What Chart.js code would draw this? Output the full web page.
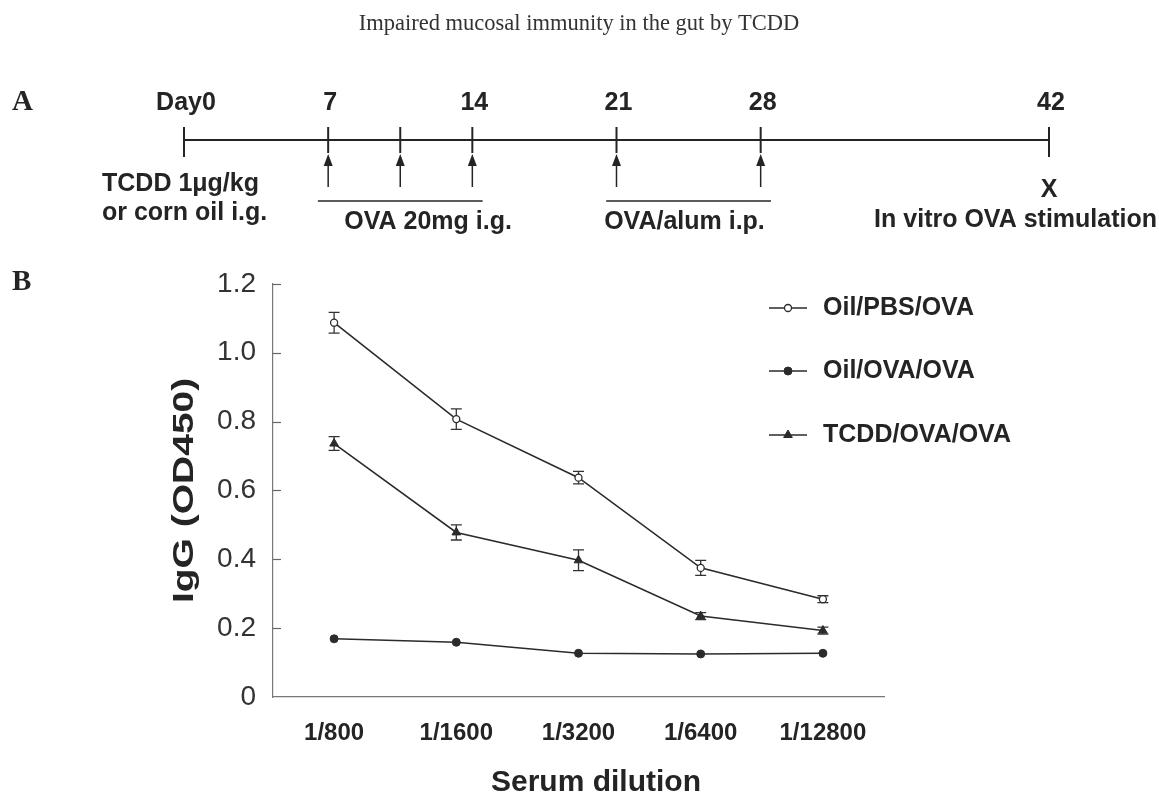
<!DOCTYPE html>
<html>
<head>
<meta charset="utf-8">
<script src="https://cdn.jsdelivr.net/npm/chart.js@4.4.1/dist/chart.umd.min.js"></script>
<style>
  html, body { margin: 0; padding: 0; background: #fff; width: 1159px; height: 799px; overflow: hidden; }
  #wrap { position: relative; width: 1159px; height: 799px; }
  canvas { position: absolute; left: 0; }
  #schedule { top: 0; }
  #igg { top: 250px; }
</style>
</head>
<body>
<div id="wrap">
  <canvas id="schedule" width="1159" height="250"></canvas>
  <canvas id="igg" width="1159" height="549"></canvas>
</div>
<script>
// ---- Panel A: treatment / immunisation schedule (days) ----
const scheduleDays = [0, 7, 10.5, 14, 21, 28, 42];
const scheduleDayLabels = ['Day0', '7', '', '14', '21', '28', '42'];
const gavageDays = [7, 10.5, 14];
const injectionDays = [21, 28];
const harvestDay = 42;
const phaseLabels = ['OVA 20mg i.g.', 'OVA/alum i.p.'];
const phaseLabelDays = [11.85, 24.3];

// ---- Panel B: serum OVA-specific IgG ----
const dilutions = ['1/800', '1/1600', '1/3200', '1/6400', '1/12800'];
const oilPbsOva = [1.087, 0.807, 0.637, 0.375, 0.284];
const oilPbsOvaErr = [0.030, 0.030, 0.018, 0.022, 0.010];
const oilOvaOva = [0.169, 0.159, 0.127, 0.125, 0.127];
const oilOvaOvaErr = [0.004, 0.004, 0.004, 0.004, 0.004];
const tcddOvaOva = [0.736, 0.478, 0.397, 0.235, 0.193];
const tcddOvaOvaErr = [0.020, 0.022, 0.030, 0.010, 0.010];
const yTickLabels = ['0', '0.2', '0.4', '0.6', '0.8', '1.0', '1.2'];

const SANS = '"Liberation Sans", Arial, Helvetica, sans-serif';
const SERIF = '"Liberation Serif", "Times New Roman", serif';
const INK = '#242424';

// Schedule drawn on a linear day axis
const schedulePlugin = {
  id: 'schedulePlugin',
  afterDraw(chart) {
    const ctx = chart.ctx;
    const xs = chart.scales.x;
    const px = d => xs.getPixelForValue(d);
    const lineY = 140;
    ctx.save();
    ctx.strokeStyle = INK;
    ctx.fillStyle = INK;

    // running title and panel letter
    ctx.font = '22.5px ' + SERIF;
    ctx.textAlign = 'center';
    ctx.textBaseline = 'middle';
    ctx.fillStyle = '#333';
    ctx.fillText('Impaired mucosal immunity in the gut by TCDD', 579, 24);
    ctx.fillStyle = INK;
    ctx.font = 'bold 29px ' + SERIF;
    ctx.textAlign = 'left';
    ctx.fillText('A', 12, 103);

    // main time line
    ctx.lineWidth = 2;
    ctx.beginPath();
    ctx.moveTo(px(0), lineY);
    ctx.lineTo(px(harvestDay), lineY);
    ctx.stroke();

    // day ticks
    scheduleDays.forEach(d => {
      const end = (d === 0 || d === harvestDay) ? 17 : 13;
      ctx.beginPath();
      ctx.moveTo(px(d), lineY - 13);
      ctx.lineTo(px(d), lineY + end);
      ctx.stroke();
    });

    // arrows for each OVA dose
    ctx.lineWidth = 1.5;
    gavageDays.concat(injectionDays).forEach(d => {
      const x = px(d);
      ctx.beginPath();
      ctx.moveTo(x, lineY + 47);
      ctx.lineTo(x, lineY + 22);
      ctx.stroke();
      ctx.beginPath();
      ctx.moveTo(x, lineY + 14);
      ctx.lineTo(x - 4.5, lineY + 26);
      ctx.lineTo(x + 4.5, lineY + 26);
      ctx.closePath();
      ctx.fill();
    });

    // phase underlines
    ctx.lineWidth = 1.5;
    [gavageDays, injectionDays].forEach(days => {
      ctx.beginPath();
      ctx.moveTo(px(Math.min(...days) - 0.5), 201);
      ctx.lineTo(px(Math.max(...days) + 0.5), 201);
      ctx.stroke();
    });

    // text
    ctx.font = 'bold 25px ' + SANS;
    ctx.textAlign = 'center';
    scheduleDays.forEach((d, i) => {
      if (scheduleDayLabels[i]) ctx.fillText(scheduleDayLabels[i], px(d) + 2, 103);
    });
    phaseLabels.forEach((t, i) => ctx.fillText(t, px(phaseLabelDays[i]), 222));
    ctx.fillText('X', px(harvestDay), 190);
    ctx.textAlign = 'left';
    ctx.fillText('TCDD 1\u03bcg/kg', 102, 184);
    ctx.fillText('or corn oil i.g.', 102, 213);
    ctx.textAlign = 'right';
    ctx.fillText('In vitro OVA stimulation', 1157, 220);
    ctx.restore();
  }
};

new Chart(document.getElementById('schedule'), {
  type: 'scatter',
  data: { datasets: [{ data: scheduleDays.map(d => ({ x: d, y: 0 })), pointRadius: 0, showLine: false }] },
  options: {
    responsive: false,
    animation: false,
    events: [],
    layout: { padding: { left: 184, right: 110, top: 0, bottom: 0 } },
    scales: {
      x: { type: 'linear', min: 0, max: harvestDay, display: false },
      y: { display: false }
    },
    plugins: { legend: { display: false }, tooltip: { enabled: false } }
  },
  plugins: [schedulePlugin]
});

// Error bars (mean ± SE) drawn underneath the markers
const errorBarPlugin = {
  id: 'errorBars',
  beforeDatasetsDraw(chart) {
    const ctx = chart.ctx;
    const ys = chart.scales.y;
    ctx.save();
    ctx.strokeStyle = '#333';
    ctx.lineWidth = 1.3;
    chart.data.datasets.forEach((ds, i) => {
      const meta = chart.getDatasetMeta(i);
      ds.errors.forEach((e, j) => {
        const x = meta.data[j].x;
        const yt = ys.getPixelForValue(ds.data[j] + e);
        const yb = ys.getPixelForValue(ds.data[j] - e);
        if (yb - yt < 3) return;
        ctx.beginPath();
        ctx.moveTo(x, yt); ctx.lineTo(x, yb);
        ctx.moveTo(x - 5.5, yt); ctx.lineTo(x + 5.5, yt);
        ctx.moveTo(x - 5.5, yb); ctx.lineTo(x + 5.5, yb);
        ctx.stroke();
      });
    });
    ctx.restore();
  }
};

// Inward tick marks, axis titles, legend and panel letter
const decorPlugin = {
  id: 'decor',
  afterDraw(chart) {
    const ctx = chart.ctx;
    const ys = chart.scales.y;
    const area = chart.chartArea;
    ctx.save();
    ctx.strokeStyle = '#666';
    ctx.lineWidth = 1.2;
    ys.ticks.forEach((t, i) => {
      if (i === 0) return;
      const y = Math.round(ys.getPixelForTick(i)) + 0.5;
      ctx.beginPath();
      ctx.moveTo(area.left, y);
      ctx.lineTo(area.left + 8, y);
      ctx.stroke();
    });

    ctx.fillStyle = INK;
    ctx.textBaseline = 'middle';
    ctx.font = 'bold 29px ' + SERIF;
    ctx.textAlign = 'left';
    ctx.fillText('B', 12, 33);

    ctx.font = 'bold 30px ' + SANS;
    ctx.textAlign = 'center';
    ctx.fillText('Serum dilution', 596, 533);

    // y-axis title, set in a wide bold face
    ctx.save();
    ctx.translate(185, (area.top + area.bottom) / 2);
    ctx.rotate(-Math.PI / 2);
    ctx.scale(1.3, 1);
    ctx.font = 'bold 30px ' + SANS;
    ctx.textAlign = 'center';
    ctx.fillText('IgG (OD450)', 0, 0);
    ctx.restore();

    // legend
    const rows = [58, 121, 185];
    chart.data.datasets.forEach((ds, i) => {
      const y = rows[i];
      ctx.strokeStyle = ds.borderColor;
      ctx.lineWidth = 1.5;
      ctx.beginPath();
      ctx.moveTo(769, y); ctx.lineTo(807, y);
      ctx.stroke();
      ctx.fillStyle = ds.pointBackgroundColor;
      ctx.strokeStyle = ds.pointBorderColor;
      ctx.lineWidth = ds.pointBorderWidth;
      Chart.helpers.drawPoint(ctx, {
        pointStyle: ds.pointStyle, radius: ds.pointRadius, rotation: 0, borderWidth: ds.pointBorderWidth
      }, 788, y);
      ctx.fillStyle = INK;
      ctx.font = 'bold 25px ' + SANS;
      ctx.textAlign = 'left';
      ctx.fillText(ds.label, 823, y);
    });
    ctx.restore();
  }
};

const lineStyle = { borderColor: '#2b2b2b', borderWidth: 1.6, tension: 0, pointBorderColor: '#2b2b2b' };

new Chart(document.getElementById('igg'), {
  type: 'line',
  data: {
    labels: dilutions,
    datasets: [
      Object.assign({ label: 'Oil/PBS/OVA', data: oilPbsOva, errors: oilPbsOvaErr,
        pointStyle: 'circle', pointRadius: 3.5, pointBackgroundColor: '#fff', pointBorderWidth: 1.3 }, lineStyle),
      Object.assign({ label: 'Oil/OVA/OVA', data: oilOvaOva, errors: oilOvaOvaErr,
        pointStyle: 'circle', pointRadius: 4, pointBackgroundColor: '#2b2b2b', pointBorderWidth: 1 }, lineStyle),
      Object.assign({ label: 'TCDD/OVA/OVA', data: tcddOvaOva, errors: tcddOvaOvaErr,
        pointStyle: 'triangle', pointRadius: 5, pointBackgroundColor: '#2b2b2b', pointBorderWidth: 1 }, lineStyle)
    ]
  },
  options: {
    responsive: false,
    animation: false,
    events: [],
    layout: { padding: { left: 0, right: 275, top: 33, bottom: 0 } },
    scales: {
      x: {
        type: 'category',
        offset: true,
        grid: { display: false, drawTicks: false },
        border: { display: true, color: '#777', width: 1.2 },
        ticks: { font: { family: SANS, size: 24, weight: 'bold' }, color: INK, padding: 22, maxRotation: 0, autoSkip: false },
        afterFit: s => { s.height = 102; }
      },
      y: {
        min: 0, max: 1.2,
        grid: { display: false, drawTicks: false },
        border: { display: true, color: '#777', width: 1.2 },
        ticks: {
          stepSize: 0.2,
          font: { family: SANS, size: 28 },
          color: '#333',
          padding: 17,
          callback: (v, i) => yTickLabels[i]
        },
        afterFit: s => { s.width = 273; }
      }
    },
    plugins: { legend: { display: false }, tooltip: { enabled: false } }
  },
  plugins: [errorBarPlugin, decorPlugin]
});
</script>
</body>
</html>
